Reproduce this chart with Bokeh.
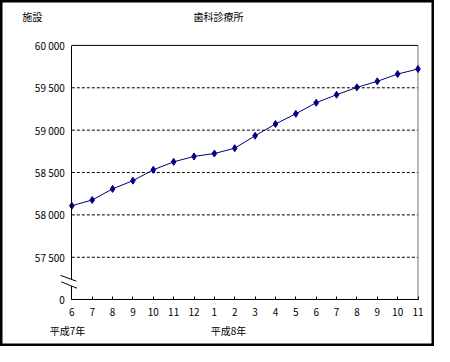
from bokeh.plotting import figure
from bokeh.models import (Range1d, FixedTicker, Label, Arrow, PolyAnnotation, ColumnDataSource, LinearAxis)
from bokeh.embed import file_html
from bokeh.resources import INLINE

# ---- data ----
month_labels = ["6", "7", "8", "9", "10", "11", "12", "1", "2", "3", "4", "5", "6", "7", "8", "9", "10", "11"]
facilities = [58108, 58176, 58307, 58404, 58532, 58626, 58690, 58724, 58787,
              58934, 59073, 59193, 59324, 59418, 59505, 59576, 59662, 59722]
y_ticks = [57000, 57500, 58000, 58500, 59000, 59500, 60000]
y_tick_labels = ["0", "57 500", "58 000", "58 500", "59 000", "59 500", "60 000"]
grid_ticks = [57500, 58000, 58500, 59000, 59500]
unit_label = "施設"
title_text = "歯科診療所"
era_labels = ["平成7年", "平成8年"]

FONT = "Noto Sans CJK JP"
x_idx = list(range(len(month_labels)))
x_last = len(month_labels) - 1
y_base, y_top = y_ticks[0], y_ticks[-1]

p = figure(width=434, height=346, output_backend="svg", toolbar_location=None,
           x_range=Range1d(-3.504, 17.81), y_range=Range1d(56447, 60530),
           x_axis_location=None, y_axis_location=None,
           min_border=0, min_border_left=0, min_border_right=0, min_border_top=0, min_border_bottom=0)
p.grid.visible = False
p.background_fill_color = "white"
p.border_fill_color = "white"
p.outline_line_color = "black"
p.outline_line_width = 4

# dashed grid lines
p.segment(x0=[0] * len(grid_ticks), x1=[x_last] * len(grid_ticks), y0=grid_ticks, y1=grid_ticks,
          line_color="black", line_dash="3 2", line_width=1)
# top and right border of the plot area
p.segment(x0=[0], x1=[x_last], y0=[y_top], y1=[y_top], line_color="black", line_width=1)
p.segment(x0=[x_last], x1=[x_last], y0=[y_base], y1=[y_top], line_color="#777777", line_width=1)

# axes
xaxis = LinearAxis(fixed_location=y_base, bounds=(0, x_last), ticker=FixedTicker(ticks=x_idx))
xaxis.major_label_overrides = {i: s for i, s in zip(x_idx, month_labels)}
xaxis.major_tick_in = 3
xaxis.major_tick_out = 0
xaxis.minor_tick_line_color = None
xaxis.axis_line_color = "black"
xaxis.major_tick_line_color = "black"
xaxis.major_label_standoff = 8
xaxis.major_label_text_font = FONT
xaxis.major_label_text_font_size = "10px"
xaxis.major_label_text_color = "black"
p.add_layout(xaxis, "below")

yaxis = LinearAxis(fixed_location=0, bounds=(y_base, y_top), ticker=FixedTicker(ticks=y_ticks))
yaxis.major_label_overrides = {t: s for t, s in zip(y_ticks, y_tick_labels)}
yaxis.major_tick_in = 0
yaxis.major_tick_out = 0
yaxis.minor_tick_line_color = None
yaxis.axis_line_color = "black"
yaxis.major_label_standoff = 7
yaxis.major_label_text_font = FONT
yaxis.major_label_text_font_size = "10px"
yaxis.major_label_text_color = "black"
p.add_layout(yaxis, "left")

# data line
src = ColumnDataSource(dict(x=x_idx, y=facilities))
p.line("x", "y", source=src, line_color="#000080", line_width=1)
p.scatter("x", "y", source=src, marker="diamond", size=7, fill_color="#000080", line_color="#000080")

# axis break
p.add_layout(PolyAnnotation(xs=[-0.55, 0.22, 0.25, -0.52], ys=[57285, 57216, 57135, 57207],
                            fill_color="white", fill_alpha=1, line_color=None))
p.add_layout(Arrow(end=None, x_start=-0.56, y_start=57287, x_end=0.22, y_end=57218,
                   line_color="black", line_width=1))
p.add_layout(Arrow(end=None, x_start=-0.52, y_start=57210, x_end=0.25, y_end=57135,
                   line_color="black", line_width=1))

# texts
for tx, ty, tt in [(-1.94, 60338, unit_label), (7.2, 60338, title_text),
                   (-0.21, 56640, era_labels[0]), (7.69, 56640, era_labels[1])]:
    p.add_layout(Label(x=tx, y=ty, text=tt, text_align="center", text_baseline="middle",
                       text_font=FONT, text_font_size="10px", text_color="black"))

open("out.html", "w").write(file_html(p, INLINE))
